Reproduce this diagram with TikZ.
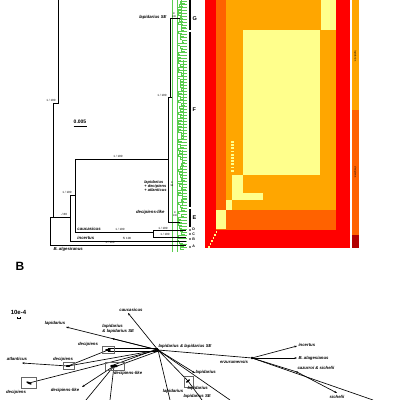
\documentclass[tikz,border=0pt]{standalone}
\usepackage{fontspec}
\setmainfont{Liberation Sans}
\usetikzlibrary{arrows.meta}
\definecolor{hmred}{RGB}{255,0,0}
\definecolor{hmdorange}{RGB}{255,98,0}
\definecolor{hmorange}{RGB}{255,166,0}
\definecolor{hmyellow}{RGB}{255,255,140}
\definecolor{treegreen}{RGB}{90,205,80}
\begin{document}
\begin{tikzpicture}[x=1pt,y=-1pt,
  lab/.style={font=\fontsize{4.3}{4.5}\selectfont\bfseries\itshape, inner sep=0.3pt},
  supp/.style={font=\fontsize{3}{3.2}\selectfont, inner sep=0.2pt},
  tl/.style={line width=0.55pt},
  gl/.style={draw=treegreen, line width=0.35pt},
  net/.style={line width=0.65pt},
  tipend/.style={-{Stealth[length=2.6pt,width=2pt]}},
  midarrow/.style={-{Stealth[length=2.4pt,width=1.8pt]}},
  cl/.style={font=\fontsize{5.5}{5.5}\selectfont\bfseries, inner sep=0.3pt},
  sl/.style={font=\fontsize{3.6}{3.6}\selectfont\bfseries, inner sep=0.2pt},
  bx/.style={draw=gray!80!black, line width=0.45pt},
  bar/.style={line width=1.4pt}
]
\useasboundingbox[fill=white] (0,0) rectangle (400,400);

% ---------------- Part A : heat map ----------------
\fill[hmred] (205,0) rectangle (350,248);
\fill[hmdorange] (216,0) rectangle (337,230);
\fill[hmorange] (226,0) rectangle (337,210);
\fill[hmyellow] (243,30) rectangle (320,175);
\fill[hmyellow] (321,0) rectangle (336,30);
\fill[hmred] (336,0) rectangle (350,248);
\fill[hmyellow] (232,175) rectangle (243,200);
\fill[hmyellow] (226,200) rectangle (232,210);
\fill[hmyellow] (216,210) rectangle (226,229);
\fill[hmyellow] (243,193) rectangle (263,200);
\foreach \k in {0,...,9} {\fill[hmyellow] (230.5,{141+3.2*\k}) rectangle (234,{142.8+3.2*\k});}
\foreach \k in {0,...,5} {\fill[hmyellow] ({215.5-1.5*\k},{231+3*\k}) rectangle ({217-1.5*\k},{232.8+3*\k});}

% side bar
\fill[hmorange] (352,0) rectangle (358.5,110);
\fill[hmdorange] (352,110) rectangle (358.5,235);
\fill[hmred!70!black] (352,235) rectangle (358.5,248);
\node[font=\fontsize{2.5}{2.5}\selectfont, rotate=-90, inner sep=0] (barA) at (355.2,56) {lapidarius};
\node[font=\fontsize{2.5}{2.5}\selectfont, rotate=-90, inner sep=0] (barB) at (355.2,172) {decipiens};

% ---------------- Part A : tree ----------------
\pgfmathsetseed{11}
\draw[gl] (172.5,0) -- (172.5,252);
\draw[gl] (177,0) -- (177,252);
\foreach \i in {0,...,82} {
  \pgfmathsetmacro\yy{3*\i+1}
  \pgfmathsetmacro\xa{177+5*rnd}
  \pgfmathsetmacro\xb{\xa+2+3*rnd}
  \draw[gl] (\xa,\yy) -- (187,\yy);
  \draw[gl] (\xa,\yy) -- (\xa,\yy+2.2) -- (\xb,\yy+2.2);
}
\draw[gl] (181,0) -- (181,30);
\draw[gl] (183,60) -- (183,140);
\draw[gl] (182,150) -- (182,205);

% black tree
\draw[tl] (58,0) -- (58,103) -- (53,103) -- (53,217);
\draw[tl] (50,217) -- (50,245);
\draw[tl] (50,217) -- (70,217);
\draw[tl] (50,245) -- (186,245);
\draw[tl] (70,195) -- (70,241) -- (186,241);
\draw[tl] (70,195) -- (75,195);
\draw[tl] (75,159) -- (75,232) -- (153,232);
\draw[tl] (153,230) -- (153,237);
\draw[tl] (153,230) -- (186,230);
\draw[tl] (153,237) -- (186,237);
\draw[tl] (75,159) -- (168,159);
\draw[tl] (168,97) -- (168,222) -- (180,222);
\draw[tl] (168,97) -- (172,97);
\draw[tl] (170,18) -- (180,18);
\draw[tl] (170,18) -- (170,97);

% support values & labels
\node[supp] (s1) at (51,100) {1 / 100};
\node[supp] (s2) at (64,214) {-/ 80};
\node[supp] (s3) at (67,192) {1 / 100};
\node[supp] (s4) at (118,156.5) {1 / 100};
\node[supp] (s5) at (120,229.5) {1 / 100};
\node[supp] (s6) at (127,238.5) {5/ 100};
\node[supp] (s7) at (110,242.5) {1 / 100};
\node[supp] (s8) at (163,228.5) {1 / 100};
\node[supp] (s9) at (165,234.5) {1 / 100};
\node[supp] (s10) at (162,95) {1 / 100};
\node[supp, align=center, font=\fontsize{2.6}{2.8}\selectfont] (s11) at (174,15) {1/\\100};
\node[supp, align=center, font=\fontsize{2.6}{2.8}\selectfont] (s12) at (172,184) {1/\\98};
\node[supp, align=center, font=\fontsize{2.6}{2.8}\selectfont] (s13) at (175,214) {1/\\100};

\node[lab, anchor=east] (tSE) at (167,17) {lapidarius SE};
\node[lab, align=left, anchor=east, font=\fontsize{4}{4.2}\selectfont\bfseries\itshape] (tLDA) at (167,186) {lapidarius\\+ decipiens\\+ atlanticus};
\node[lab, anchor=east] (tDL) at (165,212) {decipiens-like};
\node[lab, anchor=west] (tCau) at (77,229) {caucasicus};
\node[lab, anchor=west] (tInc) at (77,238) {incertus};
\node[lab, anchor=west] (tAlg) at (53,249) {B. algesiranus};

% scale
\node[font=\fontsize{5}{5}\selectfont\bfseries, inner sep=0] (sc) at (80,121.5) {0.005};
\draw[line width=1pt] (73.5,126) -- (87,126);

% clade bars
\draw[bar] (190,0) -- (190,30);
\draw[bar] (190,32) -- (190,207);
\draw[bar] (190,209) -- (190,227);
\fill (190,230) circle (0.9);
\fill (190,234) circle (0.9);
\fill (190,239) circle (0.9);
\fill (190,247) circle (0.9);
\node[cl, anchor=west] (cG) at (192,19) {G};
\node[cl, anchor=west] (cF) at (192,110) {F};
\node[cl, anchor=west] (cE) at (192,218) {E};
\node[sl, anchor=west] (cD) at (192,229.5) {D};
\node[sl, anchor=west] (cC) at (192,234) {C};
\node[sl, anchor=west] (cB) at (192,239.5) {B};
\node[sl, anchor=west] (cA) at (192,246.5) {A};

% ---------------- Part B : network ----------------
\node[font=\fontsize{12}{12}\selectfont\bfseries, inner sep=0] (labB) at (20,266) {B};
\node[font=\fontsize{6}{6}\selectfont\bfseries, inner sep=0] (ten) at (18.5,312) {10e-4};
\draw[line width=0.6pt, {Bar[width=2pt]}-{Bar[width=2pt]}] (17,318) -- (21,318);

\coordinate (H) at (158,350);
\coordinate (Cau) at (128,313);
\coordinate (L1) at (66,327);
\coordinate (D1) at (108,350);
\coordinate (D2) at (68,366);
\coordinate (DL) at (114,366);
\coordinate (D3) at (29,383);
\coordinate (At) at (22,363);
\coordinate (DL2) at (82,387);
\coordinate (LB) at (188,381);
\coordinate (L2) at (195,373);
\coordinate (E) at (252,358);
\coordinate (I) at (297,346);
\coordinate (Al) at (297,358);
\coordinate (CS) at (297,372);
\coordinate (S) at (337,393);
\coordinate (o1) at (86,400);
\coordinate (o2) at (110,400);
\coordinate (o3) at (230,400);
\coordinate (o4) at (373,400);
\coordinate (o5) at (202,400);
\coordinate (o6) at (170,400);
\coordinate (m1) at (112,338.5);

\draw[net, tipend] (H) -- (Cau);
\draw[net, tipend] (H) -- (L1);
\draw[net, midarrow] (H) -- (m1);
\draw[net] ([yshift=-1.2pt]H) -- ([yshift=-1.2pt]D1);
\draw[net] ([yshift=1.2pt]H) -- ([yshift=1.2pt]D1);
\draw[net] (H) -- (D2);
\draw[net] ([yshift=-1.2pt]H) -- ([yshift=-1.2pt]DL);
\draw[net] ([yshift=1.2pt]H) -- ([yshift=1.2pt]DL);
\draw[net] (H) -- (D3);
\draw[net, tipend] (D2) -- (At);
\draw[net] (D1) -- (D2);
\draw[net, tipend] (DL) -- (DL2);
\draw[net] (DL) -- (o1);
\draw[net] (DL) -- (o2);
\draw[net] (H) -- (LB);
\draw[net] (H) -- (o6);
\draw[net, tipend] (H) -- (L2);
\draw[net] (H) -- (o3);
\draw[net] (LB) -- (o5);
\draw[net] (H) -- (E);
\draw[net, tipend] (E) -- (I);
\draw[net, tipend] (E) -- (Al);
\draw[net] (E) -- (CS);
\draw[net, tipend] (CS) -- (S);
\draw[net] (E) -- (o4);
\fill (E) circle (1.4);
\fill (H) circle (1.2);
\fill (CS) circle (0.9);

% boxes with dense clusters
\draw[bx] (102,346.5) rectangle (114,353.5);
\draw[bx] (63,362.5) rectangle (74,369.5);
\draw[bx] (105,362.5) rectangle (124,370);
\draw[bx] (21,377.5) rectangle (36,388.5);
\draw[bx] (184,376.5) rectangle (193,387);
\fill (108,350) ellipse (3 and 1.2);
\fill (68,366) ellipse (2.5 and 1);
\fill (114,366) ellipse (4 and 1.4);
\fill[rotate around={-25:(29,383)}] (29,383) ellipse (3 and 1);
\fill[rotate around={40:(188,381)}] (188,381) ellipse (2.5 and 0.9);

% network labels
\node[lab, anchor=center] (nCau) at (131,309.5) {caucasicus};
\node[lab, anchor=center] (nL1) at (55,323) {lapidarius};
\node[lab, align=left, anchor=north west] (nLSE) at (102,324) {lapidarius\\\& lapidarius SE};
\node[lab, anchor=west] (nH) at (158,346) {lapidarius \& lapidarius SE};
\node[lab, anchor=center] (nD1) at (88,344) {decipiens};
\node[lab, anchor=center] (nD2) at (63,359) {decipiens};
\node[lab, anchor=center] (nAt) at (17,359) {atlanticus};
\node[lab, anchor=center] (nDL) at (128,373.5) {decipiens-like};
\node[lab, anchor=center] (nD3) at (16,392) {decipiens};
\node[lab, anchor=center] (nDL2) at (65,390.5) {decipiens-like};
\node[lab, anchor=west] (nL2) at (195,372) {lapidarius};
\node[lab, anchor=center] (nL3) at (173,391) {lapidarius};
\node[lab, anchor=west] (nL4) at (187,388.5) {lapidarius};
\node[lab, anchor=west] (nL5) at (183,396) {lapidarius SE};
\node[lab, anchor=center] (nE) at (234,361.5) {erzurumensis};
\node[lab, anchor=west] (nI) at (298,345) {incertus};
\node[lab, anchor=west] (nAl) at (298,358) {B. alagesianus};
\node[lab, anchor=west] (nCS) at (297,368) {cazurroi \& sichelii};
\node[lab, anchor=center] (nS) at (337,397) {sichelii};
\end{tikzpicture}
\end{document}
